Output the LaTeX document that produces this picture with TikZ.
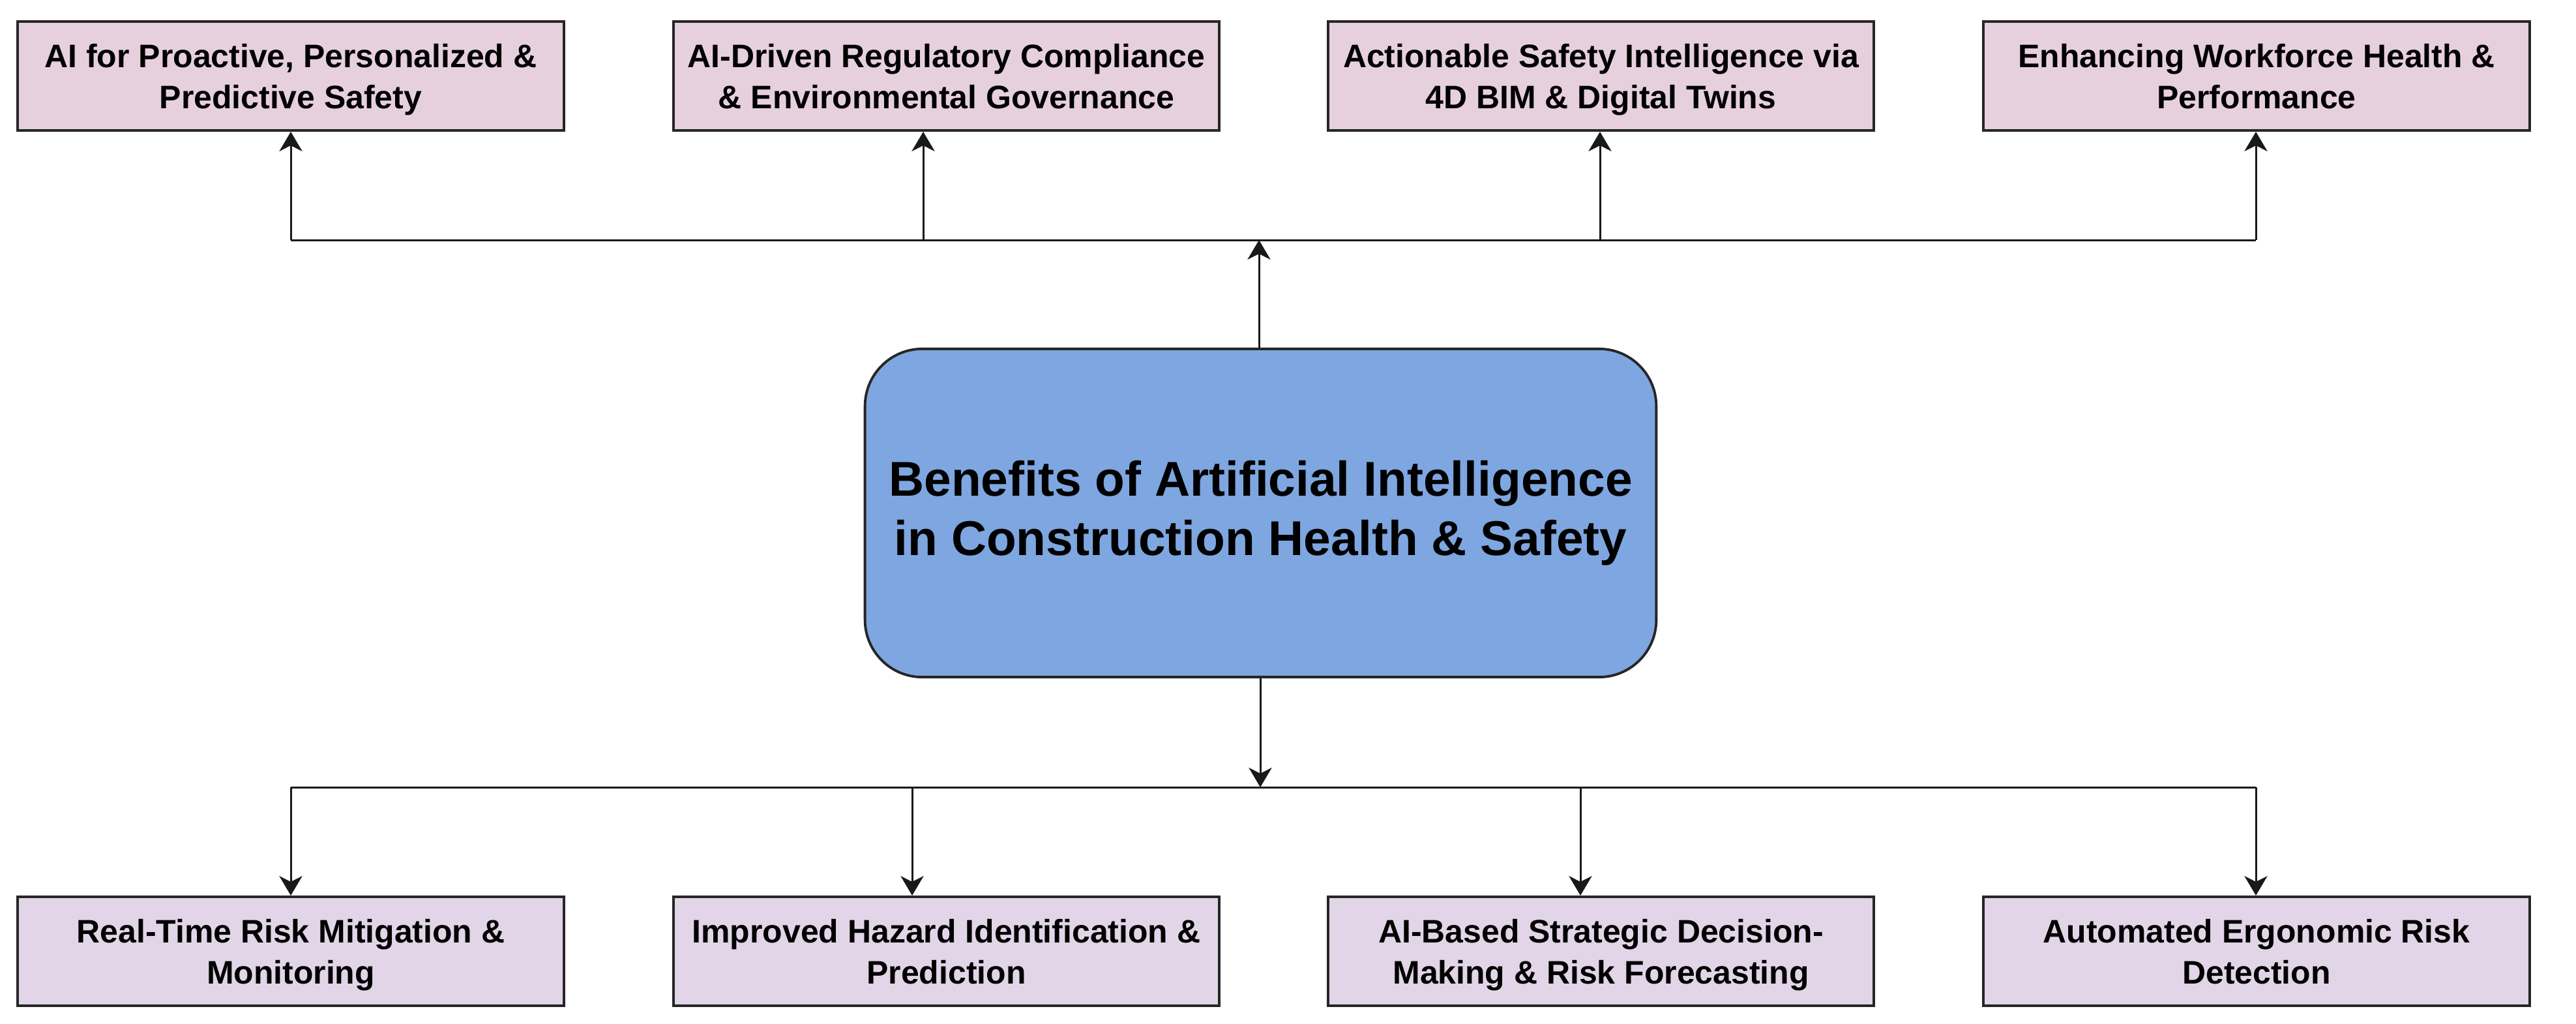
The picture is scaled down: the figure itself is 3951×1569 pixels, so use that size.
\documentclass[tikz,border=0pt]{standalone}
\usepackage{fontspec}
\setmainfont{Liberation Sans}
\usetikzlibrary{arrows.meta,calc}
\definecolor{toppink}{HTML}{E6D0DE}
\definecolor{botlav}{HTML}{E1D5E7}
\definecolor{midblue}{HTML}{7EA6E0}
\tikzset{
  leafbox/.style={draw=black!85, line width=1.1pt, rectangle, minimum width=8.37cm, minimum height=1.67cm,
    align=center, inner sep=0pt, text depth=0pt, font=\fontsize{14.2}{17.9}\selectfont\bfseries},
  topbox/.style={leafbox, fill=toppink},
  botbox/.style={leafbox, fill=botlav},
  hubbox/.style={draw=black!85, line width=1.1pt, rectangle, rounded corners=25pt, fill=midblue,
    minimum width=12.13cm, minimum height=5.03cm, align=center, inner sep=0pt,
    font=\fontsize{21.3}{26}\selectfont\bfseries},
  conn/.style={line width=0.85pt, draw=black!90},
  arr/.style={conn, -{Stealth[length=8.5pt, width=10pt, inset=2.5pt]}}
}
\begin{document}
\begin{tikzpicture}[x=0.01cm, y=-0.01cm]
\useasboundingbox[fill=white] (0,0) rectangle (3951,1569);
% hub
\node[hubbox] (hub) at (1933.5,786.5) {Benefits of Artificial Intelligence\\in Construction Health \& Safety};
% top boxes
\node[topbox] (t1) at (446,116.5) {AI for Proactive, Personalized \&\\Predictive Safety};
\node[topbox] (t2) at (1451.5,116.5) {AI-Driven Regulatory Compliance\\\& Environmental Governance};
\node[topbox] (t3) at (2455.5,116.5) {Actionable Safety Intelligence via\\4D BIM \& Digital Twins};
\node[topbox] (t4) at (3461,116.5) {Enhancing Workforce Health \&\\Performance};
% bottom boxes
\node[botbox] (b1) at (446,1458.5) {Real-Time Risk Mitigation \&\\Monitoring};
\node[botbox] (b2) at (1451.5,1458.5) {Improved Hazard Identification \&\\Prediction};
\node[botbox] (b3) at (2455.5,1458.5) {AI-Based Strategic Decision-\\Making \& Risk Forecasting};
\node[botbox] (b4) at (3461,1458.5) {Automated Ergonomic Risk\\Detection};
% bus junctions
\coordinate (tc) at (1931,368);
\coordinate (tj1) at (446,368);
\coordinate (tj2) at (1416,368);
\coordinate (tj3) at (2454,368);
\coordinate (tj4) at (3460,368);
\coordinate (bc) at (1933,1207);
\coordinate (bj1) at (446,1207);
\coordinate (bj2) at (1399,1207);
\coordinate (bj3) at (2424,1207);
\coordinate (bj4) at (3460,1207);
% top bus
\draw[conn] (tj1) -- (tj4);
\draw[arr] (hub.north -| tc) -- (tc);
\draw[arr] (tj1) -- (tj1 |- t1.south);
\draw[arr] (tj2) -- (tj2 |- t2.south);
\draw[arr] (tj3) -- (tj3 |- t3.south);
\draw[arr] (tj4) -- (tj4 |- t4.south);
% bottom bus
\draw[conn] (bj1) -- (bj4);
\draw[arr] (hub.south -| bc) -- (bc);
\draw[arr] (bj1) -- (bj1 |- b1.north);
\draw[arr] (bj2) -- (bj2 |- b2.north);
\draw[arr] (bj3) -- (bj3 |- b3.north);
\draw[arr] (bj4) -- (bj4 |- b4.north);
\end{tikzpicture}
\end{document}
